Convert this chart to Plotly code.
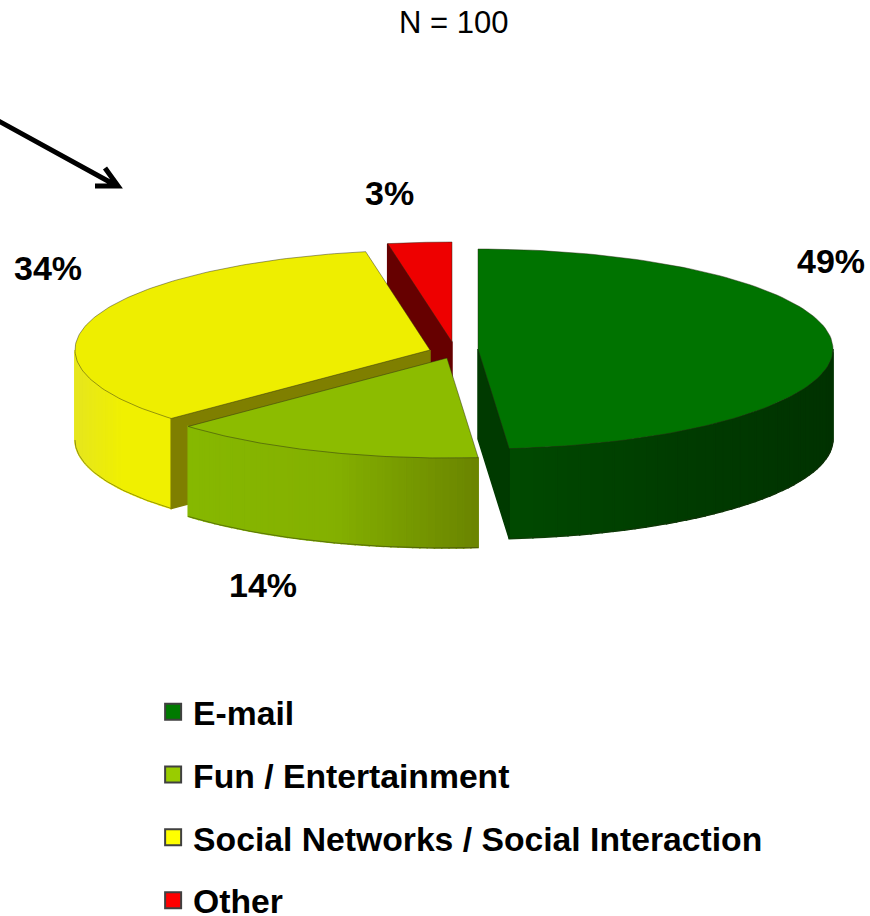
import numpy as np
import plotly.graph_objects as go

# ---- data ----
categories = ["E-mail", "Fun / Entertainment", "Social Networks / Social Interaction", "Other"]
values = [48.6, 14.4, 34.1, 2.9]
top_colors = ["#007300", "#8cbc00", "#eeee00", "#ee0000"]
legend_colors = ["#007a00", "#99cc00", "#ffff00", "#ff0000"]
face_colors = ["#003a00", "#6f8a00", "#7f7f00", "#660000"]
wall_left = ["#004a00", "#86b800", "#e6e61e", "#660000"]
wall_mid = ["#003c00", "#84b000", "#f0f000", "#660000"]
wall_right = ["#003200", "#6a8400", "#f0f000", "#660000"]
label_text = [f"{round(v)}%" for v in values]

# ---- projection ----
apex_x = [478, 447, 430, 452]
apex_y = [349, 358, 350, 342]
label_x = [831, 263, 48, 389]
label_y = [261, 585, 268, 193]
visible_cut = ["end", None, "start", "start"]
RX, RY, DEPTH = 355, 100, 90
EDGE = "rgba(40,40,20,0.65)"

fracs = np.array(values) / sum(values)
ends = np.cumsum(fracs) * 2 * np.pi
starts = ends - fracs * 2 * np.pi


def rim(i, t):
    return apex_x[i] + RX * np.sin(t), apex_y[i] - RY * np.cos(t)


def mix(a, b, f):
    ca = [int(a[k:k + 2], 16) for k in (1, 3, 5)]
    cb = [int(b[k:k + 2], 16) for k in (1, 3, 5)]
    return "rgb(%d,%d,%d)" % tuple(round(x + (y - x) * f) for x, y in zip(ca, cb))


def poly(fig, xs, ys, color, edge=None, w=0.0):
    fig.add_trace(go.Scatter(
        x=list(xs), y=list(ys), mode="lines", fill="toself", fillcolor=color,
        line=dict(color=edge or color, width=w if edge else 1.5),
        hoverinfo="skip", showlegend=False))


fig = go.Figure()

# back-to-front drawing order: Other, Social, Fun, E-mail
for i in [3, 2, 1, 0]:
    a, b = starts[i], ends[i]
    ax, ay = apex_x[i], apex_y[i]

    # outer wall, split in strips for the horizontal shading
    lo, hi = max(a, np.pi / 2), min(b, 3 * np.pi / 2)
    if hi > lo:
        edges = np.linspace(lo, hi, 45)
        for t0, t1 in zip(edges[:-1], edges[1:]):
            x0, y0 = rim(i, t0)
            x1, y1 = rim(i, t1)
            xc = (x0 + x1) / 2
            xmin, xmax = rim(i, hi)[0], rim(i, lo)[0]
            f = (xc - min(xmin, xmax)) / abs(xmax - xmin)
            col = mix(wall_left[i], wall_mid[i], f * 2) if f < 0.5 else mix(wall_mid[i], wall_right[i], f * 2 - 1)
            poly(fig, [x0, x1, x1, x0, x0], [y0, y1, y1 + DEPTH, y0 + DEPTH, y0], col)
        tt = np.linspace(lo, hi, 60)
        xb, yb = rim(i, tt)
        fig.add_trace(go.Scatter(x=xb, y=yb + DEPTH, mode="lines", line=dict(color=EDGE, width=0.7),
                                 hoverinfo="skip", showlegend=False))

    # radial cut face that looks towards the viewer
    if visible_cut[i]:
        t = a if visible_cut[i] == "start" else b
        rx_, ry_ = rim(i, t)
        poly(fig, [ax, rx_, rx_, ax, ax], [ay, ry_, ry_ + DEPTH, ay + DEPTH, ay], face_colors[i])

    # top face
    tt = np.linspace(a, b, 120)
    xr, yr = rim(i, tt)
    poly(fig, np.r_[ax, xr, ax], np.r_[ay, yr, ay], top_colors[i], EDGE, 0.7)

# legend entries
for name, col in zip(categories, legend_colors):
    fig.add_trace(go.Scatter(
        x=[None], y=[None], mode="markers", name=name, legendgroup=name,
        marker=dict(symbol="square", size=17, color=col, line=dict(color="#404040", width=2))))

# percent labels
for t, lx, ly in zip(label_text, label_x, label_y):
    fig.add_annotation(x=lx, y=ly, text=f"<b>{t}</b>", showarrow=False,
                       font=dict(family="Liberation Sans", size=34, color="black"))

fig.add_annotation(x=453, y=22, text="N = 100", showarrow=False,
                   font=dict(family="Liberation Sans", size=31, color="black"))

fig.update_layout(
    width=870, height=916, autosize=False,
    margin=dict(l=0, r=0, t=0, b=0, autoexpand=False),
    paper_bgcolor="white", plot_bgcolor="white",
    xaxis=dict(range=[0, 870], visible=False, fixedrange=True),
    yaxis=dict(range=[916, 0], visible=False, fixedrange=True),
    shapes=[dict(type="path", path="M -5 119 L 117 186 M 95 186 L 118 186 L 105 168",
                 line=dict(color="black", width=5), layer="above")],
    legend=dict(x=0.176, y=0.254, yanchor="top", xanchor="left",
                tracegroupgap=16, font=dict(family="Liberation Sans", size=33.7, color="black",
                                            weight="bold"),
                bgcolor="rgba(0,0,0,0)", itemclick=False, itemdoubleclick=False),
)
fig.write_html("out.html", config={"displayModeBar": False},
               post_script="document.body.style.margin='0';")
